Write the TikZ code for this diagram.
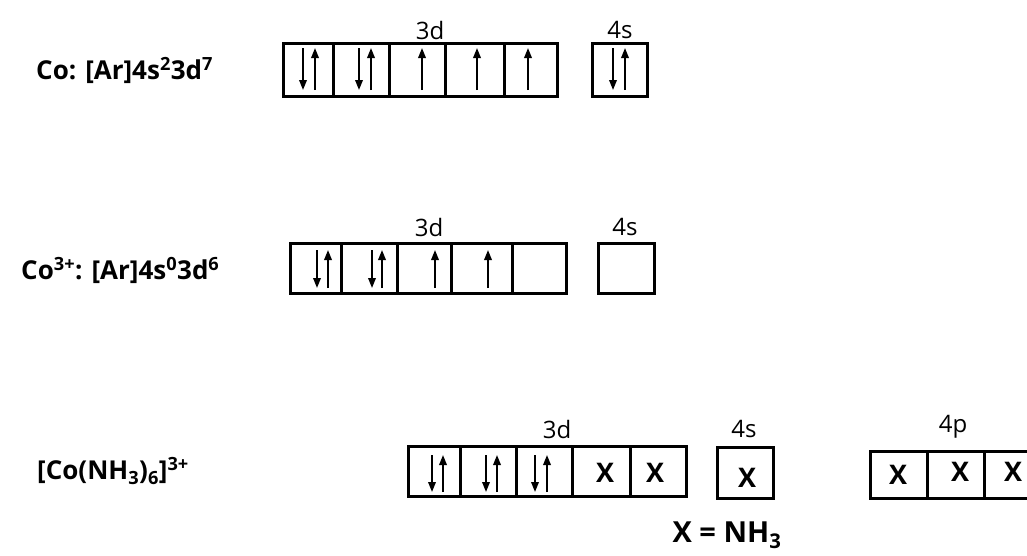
\documentclass[tikz,border=0pt]{standalone}
\usepackage{fontspec}
\setmainfont{Open Sans}
\usetikzlibrary{arrows.meta}
\tikzset{
  cell/.style={draw, line width=3pt, inner sep=0pt, outer sep=0pt},
  spin/.style={line width=1.8pt, -{Triangle[length=10pt,width=7.5pt]}},
  orblabel/.style={font=\fontsize{24}{27}\selectfont, inner sep=0pt},
  conf/.style={font=\fontsize{26}{29}\selectfont\bfseries, inner sep=0pt, anchor=west},
  lig/.style={font=\fontsize{27}{30}\selectfont\bfseries, inner sep=0pt}
}
% \orb{name}{left}{right}{top}{bottom}
\newcommand\orb[5]{\node[cell, minimum width={(#3-(#2))*1pt}, minimum height={(#5-(#4))*1pt}] (#1) at ({(#2+#3)/2},{(#4+#5)/2}) {};}
% \uparr{x}{top}{bottom}  \dnarr{x}{top}{bottom}
\newcommand\uparr[3]{\draw[spin] (#1,#3) -- (#1,#2);}
\newcommand\dnarr[3]{\draw[spin] (#1,#2) -- (#1,#3);}
\begin{document}
\begin{tikzpicture}[x=1pt,y=-1pt]
\useasboundingbox[fill=white] (0,0) rectangle (1027,555);

% ---------- Row 1: Co ----------
\node[conf] (c1) at (36,70) {Co: [Ar]4s\textsuperscript{2}3d\textsuperscript{7}};
\orb{a1}{283}{333}{43}{96}
\orb{a2}{333}{389}{43}{96}
\orb{a3}{389}{445}{43}{96}
\orb{a4}{445}{504}{43}{96}
\orb{a5}{504}{557}{43}{96}
\orb{as}{592}{647}{43}{96}
\node[orblabel] (l1d) at (430,30) {3d};
\node[orblabel] (l1s) at (620,30) {4s};
\dnarr{303}{48}{90}\uparr{315}{48}{90}
\dnarr{359}{48}{90}\uparr{371}{48}{90}
\uparr{422}{48}{90}
\uparr{477}{48}{90}
\uparr{528}{48}{90}
\dnarr{613}{48}{90}\uparr{625}{48}{90}

% ---------- Row 2: Co3+ ----------
\node[conf] (c2) at (21,270) {Co\textsuperscript{3+}: [Ar]4s\textsuperscript{0}3d\textsuperscript{6}};
\orb{b1}{290}{341}{243}{293}
\orb{b2}{341}{397}{243}{293}
\orb{b3}{397}{451}{243}{293}
\orb{b4}{451}{512}{243}{293}
\orb{b5}{512}{566}{243}{293}
\orb{bs}{598}{654}{243}{293}
\node[orblabel] (l2d) at (429,227) {3d};
\node[orblabel] (l2s) at (625,227) {4s};
\dnarr{317}{250}{288}\uparr{328}{250}{288}
\dnarr{372}{250}{288}\uparr{382}{250}{288}
\uparr{435}{250}{288}
\uparr{488}{250}{288}

% ---------- Row 3: [Co(NH3)6]3+ ----------
\node[conf] (c3) at (37,471) {[Co(NH\textsubscript{3})\textsubscript{6}]\textsuperscript{3+}};
\orb{d1}{408}{460}{446}{496}
\orb{d2}{460}{516}{446}{496}
\orb{d3}{516}{572}{446}{496}
\orb{d4}{572}{630}{446}{496}
\orb{d5}{630}{686}{446}{496}
\orb{ds}{717}{773}{447}{498}
\orb{p1}{870}{927}{451}{498}
\orb{p2}{927}{984}{451}{498}
\orb{p3}{984}{1041}{451}{498}
\node[orblabel] (l3d) at (557,429) {3d};
\node[orblabel] (l3s) at (744,429) {4s};
\node[orblabel] (l3p) at (953,427) {4p};
\dnarr{432}{455}{492}\uparr{443}{455}{492}
\dnarr{486}{455}{492}\uparr{497}{455}{492}
\dnarr{535}{455}{492}\uparr{547}{455}{492}
\node[lig] (x1) at (605,473) {X};
\node[lig] (x2) at (655,473) {X};
\node[lig] (x3) at (747,478) {X};
\node[lig] (x4) at (898,475) {X};
\node[lig] (x5) at (960,472) {X};
\node[lig] (x6) at (1013,472) {X};
\node[conf, anchor=center, font=\fontsize{29}{32}\selectfont\bfseries] (key) at (727,535) {X = NH\textsubscript{3}};
\end{tikzpicture}
\end{document}
